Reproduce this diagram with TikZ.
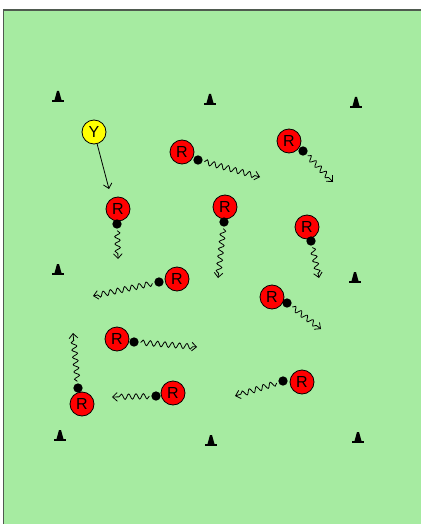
\documentclass[tikz,border=0pt]{standalone}
\usepackage{fontspec}
\setmainfont{Liberation Sans}
\usetikzlibrary{arrows.meta,decorations.pathmorphing}
\definecolor{pitch}{HTML}{A6EBA1}
\definecolor{edge}{HTML}{4F5A4F}
\definecolor{shirt}{HTML}{FF0000}
\definecolor{bib}{HTML}{FFFF00}

\begin{document}
\begin{tikzpicture}[x=0.75pt,y=-0.75pt,>={Straight Barb[length=3.5pt,width=6.5pt]}]
  \tikzset{player/.style={circle,draw=black,line width=0.6pt,fill=shirt,inner sep=0pt,minimum size=18pt,font=\fontsize{12}{14}\selectfont},
    ball/.style={circle,fill=black,inner sep=0pt,minimum size=7pt,outer sep=1.5pt},
    run/.style={->,line width=0.6pt,decorate,decoration={snake,amplitude=2pt,segment length=5.5pt,post length=3pt}},
    cone/.pic={\fill (-1,-11) -- (1,-11) -- (3.5,-2) -- (-3.5,-2) -- cycle; \fill (-6,-2) rectangle (6,0);}}
  \useasboundingbox (0,0) rectangle (421,524);
  % pitch
  \fill[pitch] (3.5,10) rectangle (421,524);
  \draw[edge,line width=1.2pt] (3.5,524) -- (3.5,10) -- (421,10);
  % cones
  \foreach \cx/\cy in {58/102,210/105,356/108,58/275,355/283,60/441,211/446,358/443}
    \pic at (\cx,\cy) {cone};
  % players
  \node[player,fill=bib] (y) at (94,132) {Y};
  \node[player] (r1) at (118,209) {R};
  \node[player] (r2) at (182,152) {R};
  \node[player] (r3) at (289,141) {R};
  \node[player] (r4) at (225,207) {R};
  \node[player] (r5) at (307,227) {R};
  \node[player] (r6) at (177,279) {R};
  \node[player] (r7) at (117,339) {R};
  \node[player] (r8) at (82,404) {R};
  \node[player] (r9) at (173,393) {R};
  \node[player] (r10) at (272,297) {R};
  \node[player] (r11) at (302,382) {R};
  % balls
  \node[ball] (b1) at (117,224) {};
  \node[ball] (b2) at (198,160) {};
  \node[ball] (b3) at (303,151) {};
  \node[ball] (b4) at (224,222) {};
  \node[ball] (b5) at (311,241) {};
  \node[ball] (b6) at (159,282) {};
  \node[ball] (b7) at (134,342) {};
  \node[ball] (b8) at (78,388) {};
  \node[ball] (b9) at (156,396) {};
  \node[ball] (b10) at (287,303) {};
  \node[ball] (b11) at (283,381) {};
  % run ends
  \coordinate (ty) at (109,189);
  \coordinate (t1) at (118,259);
  \coordinate (t2) at (260,177);
  \coordinate (t3) at (333,182);
  \coordinate (t4) at (218,278);
  \coordinate (t5) at (319,278);
  \coordinate (t6) at (93,296);
  \coordinate (t7) at (197,347);
  \coordinate (t8) at (73,333);
  \coordinate (t9) at (112,397);
  \coordinate (t10) at (321,329);
  \coordinate (t11) at (235,396);
  \draw[->,line width=0.6pt] (y) -- (ty);
  \foreach \i in {1,...,11}
    \draw[run] (b\i) -- (t\i);
\end{tikzpicture}
\end{document}
